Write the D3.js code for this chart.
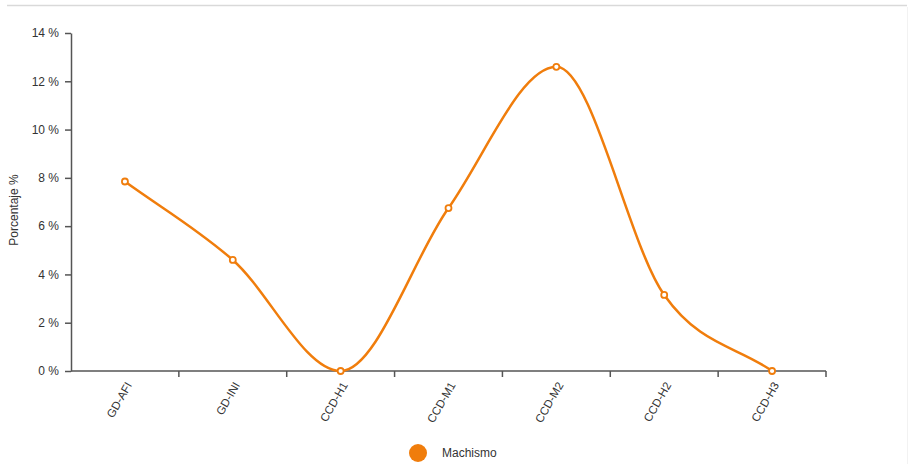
<!DOCTYPE html>
<html>
<head>
<meta charset="utf-8">
<script src="https://cdn.jsdelivr.net/npm/d3@7"></script>
<style>
  html, body { margin: 0; padding: 0; background: #fff; }
  svg { display: block; font-family: "Liberation Sans", Arial, Helvetica, sans-serif; }
</style>
</head>
<body>
<svg id="chart" width="911" height="464"></svg>
<script>
const categories = ["GD-AFI", "GD-INI", "CCD-H1", "CCD-M1", "CCD-M2", "CCD-H2", "CCD-H3"];
const machismo = [7.85, 4.6, 0, 6.75, 12.6, 3.15, 0];
const yTicks = [0, 2, 4, 6, 8, 10, 12, 14];
const seriesName = "Machismo";

const color = "#f07d0c";
const axisColor = "#555";
const textColor = "#333";

// Monotone cubic curve (secant slopes at the ends, averaged slopes inside,
// Fritsch–Carlson limiting) as a d3 curve factory.
function curveMonotoneSecant(context) {
  let xs = [], ys = [];
  return {
    areaStart() {}, areaEnd() {},
    lineStart() { xs = []; ys = []; },
    point(px, py) { xs.push(+px); ys.push(+py); },
    lineEnd() {
      const n = xs.length;
      if (!n) return;
      context.moveTo(xs[0], ys[0]);
      if (n === 1) return;
      const d = [], m = [];
      for (let i = 0; i < n - 1; i++) d.push((ys[i + 1] - ys[i]) / (xs[i + 1] - xs[i]));
      m[0] = d[0]; m[n - 1] = d[n - 2];
      for (let i = 1; i < n - 1; i++) {
        m[i] = (d[i - 1] === 0 || d[i] === 0 || Math.sign(d[i - 1]) !== Math.sign(d[i])) ? 0 : (d[i - 1] + d[i]) / 2;
      }
      for (let i = 0; i < n - 1; i++) {
        if (d[i] === 0) { m[i] = 0; m[i + 1] = 0; continue; }
        const a = m[i] / d[i], b = m[i + 1] / d[i], s = a * a + b * b;
        if (s > 9) { const t = 3 / Math.sqrt(s); m[i] = a * t * d[i]; m[i + 1] = b * t * d[i]; }
      }
      for (let i = 0; i < n - 1; i++) {
        const dx = (xs[i + 1] - xs[i]) / 3;
        context.bezierCurveTo(xs[i] + dx, ys[i] + m[i] * dx, xs[i + 1] - dx, ys[i + 1] - m[i + 1] * dx, xs[i + 1], ys[i + 1]);
      }
    }
  };
}

const svg = d3.select("#chart");
const H = 464;

// frame lines
svg.append("line").attr("x1", 7).attr("x2", 907).attr("y1", 5.5).attr("y2", 5.5)
  .attr("stroke", "#d9d9d9").attr("stroke-width", 1.5);
svg.append("line").attr("x1", 907.5).attr("x2", 907.5).attr("y1", 7).attr("y2", H)
  .attr("stroke", "#f2f2f2").attr("stroke-width", 1);

const x = d3.scaleBand().domain(categories).range([71, 826]).paddingInner(0).paddingOuter(0);
const y = d3.scaleLinear().domain([0, 14]).range([371, 33]);

// Y axis
const yAxis = d3.axisLeft(y).tickValues(yTicks).tickSize(6).tickSizeOuter(0).tickPadding(6)
  .tickFormat(d => d + " %");
const gy = svg.append("g").attr("transform", `translate(71,0)`).call(yAxis);
gy.select(".domain").attr("stroke", axisColor).attr("stroke-width", 1.5);
gy.selectAll(".tick line").attr("stroke", axisColor).attr("stroke-width", 1.5);
gy.selectAll(".tick text").attr("fill", textColor).attr("font-size", 12)
  .attr("font-family", "Liberation Sans, Arial, sans-serif");

// X axis: baseline and boundary ticks
const gx = svg.append("g").attr("transform", `translate(0,${y(0)})`);
gx.append("line").attr("x1", x.range()[0]).attr("x2", x.range()[1]).attr("y1", 0).attr("y2", 0)
  .attr("stroke", axisColor).attr("stroke-width", 1.5);
const bounds = categories.map(c => x(c) + x.bandwidth());
gx.selectAll("line.bt").data(bounds).enter().append("line").attr("class", "bt")
  .attr("x1", d => d).attr("x2", d => d).attr("y1", 0).attr("y2", 6)
  .attr("stroke", axisColor).attr("stroke-width", 1.5);
gx.selectAll("text.lab").data(categories).enter().append("text").attr("class", "lab")
  .attr("transform", d => `translate(${x(d) + x.bandwidth() / 2 + 4},${12}) rotate(-60)`)
  .attr("text-anchor", "end").attr("dy", "0.35em")
  .attr("font-size", 11.5).attr("fill", textColor).text(d => d);

// Y label
svg.append("text").attr("transform", `translate(18,210) rotate(-90)`)
  .attr("text-anchor", "middle").attr("font-size", 12).attr("fill", textColor)
  .text("Porcentaje %");

// line
const cx = d => x(d) + x.bandwidth() / 2;
const line = d3.line().x((d, i) => cx(categories[i])).y(d => y(d)).curve(curveMonotoneSecant);
svg.append("path").datum(machismo).attr("d", line)
  .attr("fill", "none").attr("stroke", color).attr("stroke-width", 2.5);

svg.selectAll("circle.pt").data(machismo).enter().append("circle").attr("class", "pt")
  .attr("cx", (d, i) => cx(categories[i])).attr("cy", d => y(d)).attr("r", 3)
  .attr("fill", "#fff").attr("stroke", color).attr("stroke-width", 1.8);

// legend
svg.append("circle").attr("cx", 418).attr("cy", 453).attr("r", 9).attr("fill", color);
svg.append("text").attr("x", 442).attr("y", 453).attr("dy", "0.35em")
  .attr("font-size", 12).attr("fill", textColor).text(seriesName);
</script>
</body>
</html>
